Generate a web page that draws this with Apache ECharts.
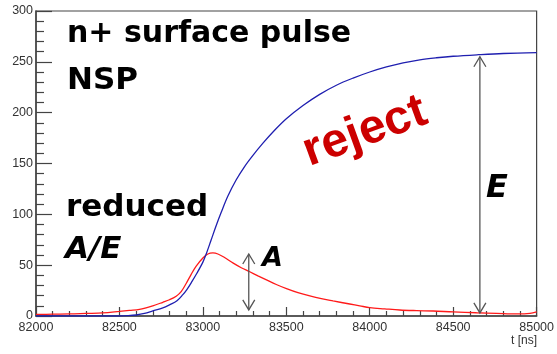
<!DOCTYPE html>
<html>
<head>
<meta charset="utf-8">
<script src="https://cdn.jsdelivr.net/npm/echarts@6/dist/echarts.min.js"></script>
<style>
html,body{margin:0;padding:0;background:#fff;}
#chart{width:557px;height:354px;}
</style>
</head>
<body>
<div id="chart"></div>
<script>
// Charge pulse (blue) – time [ns] and amplitude
const blueT = [82000, 82500, 82550, 82600, 82650, 82700, 82760, 82800, 82845, 82880, 82904, 82935, 82964, 83000, 83020, 83050, 83080, 83110, 83150, 83200, 83250, 83300, 83360, 83420, 83500, 83600, 83700, 83800, 83900, 84000, 84100, 84200, 84300, 84400, 84500, 84650, 84800, 85000];
const blueV = [0, 0, 0.3, 1, 2.5, 5, 8, 11, 15, 21, 26, 34, 42, 53, 61, 75, 89, 102, 118, 134, 147, 158, 170, 181, 194, 207, 218, 227, 234, 240, 245, 249, 252, 254, 255.5, 257, 258.2, 259];
// Current pulse (red)
const redT = [82000, 82100, 82200, 82300, 82400, 82500, 82560, 82620, 82700, 82760, 82800, 82840, 82870, 82900, 82930, 82960, 83000, 83030, 83060, 83090, 83130, 83182, 83230, 83281, 83330, 83381, 83440, 83501, 83570, 83641, 83710, 83780, 83880, 83940, 84000, 84090, 84180, 84280, 84380, 84500, 84640, 84760, 84880, 84960, 85000];
const redV = [1.5, 1.8, 2, 2.5, 3, 4.5, 5.5, 6.5, 10, 13.5, 16, 19.5, 24, 32, 41, 49, 57, 61, 62, 61, 57.5, 52, 47.5, 43.5, 39.5, 35.5, 31, 27, 23, 19.7, 17, 14.8, 11.8, 10, 8.2, 7, 5.9, 5.3, 4.9, 4, 3.2, 2.6, 2, 2.5, 4];
// Axis settings
const xMin = 82000, xMax = 85000, xStep = 500;
const yMin = 0, yMax = 300, yStep = 50;
// Annotation arrows (data coordinates)
const arrowA = {t: 83275, from: 61, to: 6};
const arrowE = {t: 84660, from: 255, to: 3};

const blueData = blueT.map((t, i) => [t, blueV[i]]);
const redData = redT.map((t, i) => [t, redV[i]]);

const chart = echarts.init(document.getElementById('chart'));
const axisCol = '#444';
const option = {
  animation: false,
  grid: {left: 36, right: 20, top: 11, bottom: 38, show: true, borderColor: axisCol, borderWidth: 1.2},
  xAxis: {
    type: 'value', min: xMin, max: xMax, interval: xStep,
    axisLine: {lineStyle: {color: axisCol, width: 1.5}},
    axisTick: {inside: true, length: 9, lineStyle: {color: axisCol, width: 1.2}},
    minorTick: {show: true, splitNumber: 5, length: 5, lineStyle: {color: axisCol, width: 1.2}},
    splitLine: {show: false},
    axisLabel: {color: '#333', fontSize: 12.5, fontFamily: 'Liberation Sans', margin: 5, showMinLabel: true, showMaxLabel: true, formatter: v => String(v)}
  },
  yAxis: {
    type: 'value', min: yMin, max: yMax, interval: yStep,
    axisLine: {show: true, lineStyle: {color: axisCol, width: 1.5}},
    axisTick: {show: true, inside: true, length: 16, lineStyle: {color: axisCol, width: 1.2}},
    minorTick: {show: true, splitNumber: 5, length: 8, lineStyle: {color: axisCol, width: 1.2}},
    splitLine: {show: false},
    axisLabel: {color: '#333', fontSize: 12.5, fontFamily: 'Liberation Sans', margin: 3, formatter: v => String(v)}
  },
  series: [
    {type: 'line', data: redData, showSymbol: false, smooth: 0.35, lineStyle: {color: '#ff1a1a', width: 1.3}, z: 3},
    {type: 'line', data: blueData, showSymbol: false, smooth: 0.35, lineStyle: {color: '#1f1fb0', width: 1.3}, z: 4}
  ]
};
chart.setOption(option);

function px(t, v) { return chart.convertToPixel({gridIndex: 0}, [t, v]); }
function arrow(a) {
  const p1 = px(a.t, a.from), p2 = px(a.t, a.to);
  const x = p1[0], w = 6, h = 10, col = '#555';
  return [
    {type: 'line', shape: {x1: x, y1: p1[1], x2: x, y2: p2[1]}, style: {stroke: col, lineWidth: 1.3}, z: 10},
    {type: 'polyline', shape: {points: [[x - w, p1[1] + h], [x, p1[1]], [x + w, p1[1] + h]]}, style: {stroke: col, lineWidth: 1.3, fill: null}, z: 10},
    {type: 'polyline', shape: {points: [[x - w, p2[1] - h], [x, p2[1]], [x + w, p2[1] - h]]}, style: {stroke: col, lineWidth: 1.3, fill: null}, z: 10}
  ];
}
const graphics = [].concat(arrow(arrowA), arrow(arrowE), [
  {type: 'text', x: 67, y: 34, style: {text: 'n+ surface pulse', font: 'bold 30px "DejaVu Sans"', fill: '#000', verticalAlign: 'middle'}, z: 11},
  {type: 'text', x: 67, y: 81, style: {text: 'NSP', font: 'bold 31px "DejaVu Sans"', fill: '#000', verticalAlign: 'middle'}, z: 11},
  {type: 'text', x: 66, y: 208, style: {text: 'reduced', font: 'bold 31px "DejaVu Sans"', fill: '#000', verticalAlign: 'middle'}, z: 11},
  {type: 'text', x: 65, y: 250, style: {text: 'A/E', font: 'italic bold 31px "DejaVu Sans"', fill: '#000', verticalAlign: 'middle'}, z: 11},
  {type: 'text', x: 262, y: 259, style: {text: 'A', font: 'italic bold 27px "DejaVu Sans"', fill: '#000', verticalAlign: 'middle'}, z: 11},
  {type: 'text', x: 486, y: 189, style: {text: 'E', font: 'italic bold 32px "DejaVu Sans"', fill: '#000', verticalAlign: 'middle'}, z: 11},
  {type: 'text', x: 365, y: 132, rotation: 20 * Math.PI / 180, style: {text: 'reject', font: 'bold 48px "Liberation Sans"', fill: '#cc0000', align: 'center', verticalAlign: 'middle'}, z: 11},
  {type: 'text', x: 537, y: 341, style: {text: 't [ns]', font: '12px "Liberation Sans"', fill: '#333', align: 'right', verticalAlign: 'middle'}, z: 11}
]);
chart.setOption({graphic: graphics});
</script>
</body>
</html>
